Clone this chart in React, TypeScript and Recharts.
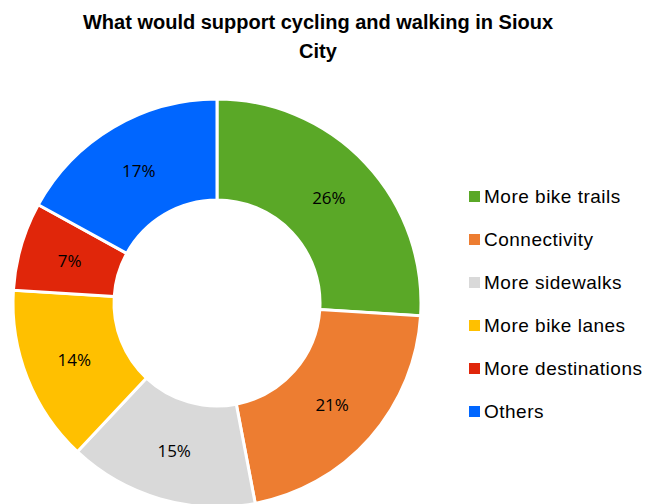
import React from 'react';
import { PieChart, Pie, Cell, Legend } from 'recharts';

const categories = ['More bike trails', 'Connectivity', 'More sidewalks', 'More bike lanes', 'More destinations', 'Others'];
const shares = [26, 21, 15, 14, 7, 17];
const colors = ['#5AA827', '#ED7D31', '#D9D9D9', '#FFC000', '#E0260A', '#0066FF'];

const data = categories.map((name, i) => ({ name, value: shares[i] }));

const RAD = Math.PI / 180;

function renderLabel(props: any) {
  const { cx, cy, midAngle, innerRadius, outerRadius, value } = props;
  const r = (innerRadius + outerRadius) / 2;
  const x = cx + r * Math.cos(-midAngle * RAD);
  const y = cy + r * Math.sin(-midAngle * RAD);
  return (
    <text x={x} y={y} textAnchor="middle" dominantBaseline="central"
      fontFamily="'Open Sans', sans-serif" fontSize={17} fill="#000">
      {`${value}%`}
    </text>
  );
}

function LegendList() {
  return (
    <div style={{ fontFamily: "'Liberation Sans', Arial, sans-serif", fontSize: 19, letterSpacing: 0.5, color: '#000' }}>
      {data.map((d, i) => (
        <div key={d.name} style={{ display: 'flex', alignItems: 'center', height: 43 }}>
          <span style={{ width: 11, height: 11, background: colors[i], display: 'inline-block', marginRight: 4 }} />
          <span>{d.name}</span>
        </div>
      ))}
    </div>
  );
}

export default function App() {
  return (
    <div style={{ position: 'absolute', left: 0, top: 0, width: 657, height: 504, background: '#fff', overflow: 'hidden' }}>
      <div style={{
        position: 'absolute', left: 0, top: 8, width: 636, textAlign: 'center',
        fontFamily: "'Liberation Sans', Arial, sans-serif", fontWeight: 'bold', fontSize: 20, lineHeight: '29px',
      }}>
        What would support cycling and walking in Sioux<br />City
      </div>
      <PieChart width={657} height={504} margin={{ top: 0, right: 0, bottom: 0, left: 0 }}
        style={{ position: 'absolute', left: 0, top: 0 }}>
        <Pie data={data} dataKey="value" nameKey="name" cx={217} cy={303}
          innerRadius={103} outerRadius={204} startAngle={90} endAngle={-270}
          stroke="#fff" strokeWidth={3} label={renderLabel} labelLine={false}
          isAnimationActive={false}>
          {data.map((d, i) => <Cell key={d.name} fill={colors[i]} />)}
        </Pie>
        <Legend layout="vertical" content={<LegendList />}
          wrapperStyle={{ position: 'absolute', left: 469, top: 175, width: 188 }} />
      </PieChart>
    </div>
  );
}
